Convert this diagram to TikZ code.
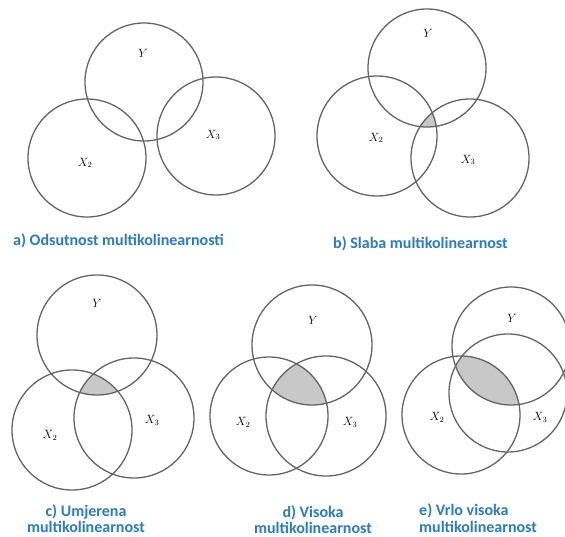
\documentclass[tikz,border=0pt]{standalone}
\usepackage{fontspec}
\newfontfamily\capfont{Carlito}
\definecolor{capblue}{RGB}{44,122,196}
\definecolor{circgray}{RGB}{100,100,100}
\definecolor{shadegray}{RGB}{200,200,200}
\begin{document}
\begin{tikzpicture}[x=1pt,y=-1pt,
  venn/.style={draw=circgray,line width=1.3pt},
  shade3/.style={fill=shadegray},
  lbl/.style={inner sep=0pt,font=\fontsize{12}{14}\selectfont},
  captxt/.style={inner sep=0pt,text=capblue,font=\capfont\bfseries\fontsize{16}{16.5}\selectfont}]
\useasboundingbox (0,0) rectangle (565,537);
% ---------- a) ----------
\draw[venn] (144,82) circle (59);
\draw[venn] (87,158) circle (59);
\draw[venn] (216,136) circle (59);
\node[lbl] (aY) at (143,53) {$Y$};
\node[lbl] (aX2) at (85,163) {$X_2$};
\node[lbl] (aX3) at (213,135) {$X_3$};
\node[captxt,anchor=west] (acap) at (13,241) {a) Odsutnost multikolinearnosti};
% ---------- b) ----------
\begin{scope}
  \clip (427,68) circle (59);
  \clip (377,136) circle (60);
  \fill[shade3] (470,158) circle (59);
\end{scope}
\draw[venn] (427,68) circle (59);
\draw[venn] (377,136) circle (60);
\draw[venn] (470,158) circle (59);
\node[lbl] (bY) at (428,33) {$Y$};
\node[lbl] (bX2) at (376,138) {$X_2$};
\node[lbl] (bX3) at (468,160) {$X_3$};
\node[captxt,anchor=west] (bcap) at (333,244) {b) Slaba multikolinearnost};
% ---------- c) ----------
\begin{scope}
  \clip (97,335) circle (60);
  \clip (72,430) circle (60);
  \fill[shade3] (134,418) circle (60);
\end{scope}
\draw[venn] (97,335) circle (60);
\draw[venn] (72,430) circle (60);
\draw[venn] (134,418) circle (60);
\node[lbl] (cY) at (97,303) {$Y$};
\node[lbl] (cX2) at (50,435) {$X_2$};
\node[lbl] (cX3) at (152,420) {$X_3$};
\node[captxt,align=center] (ccap) at (86,518.5) {c) Umjerena\\multikolinearnost};
% ---------- d) ----------
\begin{scope}
  \clip (312,345) circle (60);
  \clip (269,416) circle (59);
  \fill[shade3] (326,416) circle (60);
\end{scope}
\draw[venn] (312,345) circle (60);
\draw[venn] (269,416) circle (59);
\draw[venn] (326,416) circle (60);
\node[lbl] (dY) at (313,320) {$Y$};
\node[lbl] (dX2) at (243,422) {$X_2$};
\node[lbl] (dX3) at (350,422) {$X_3$};
\node[captxt,align=center] (dcap) at (313,519.5) {d) Visoka\\multikolinearnost};
% ---------- e) ----------
\begin{scope}
  \clip (511,346) circle (59);
  \clip (508,393) circle (59);
  \fill[shade3] (461,415) circle (59);
\end{scope}
\draw[venn] (511,346) circle (59);
\draw[venn] (508,393) circle (59);
\draw[venn] (461,415) circle (59);
\node[lbl] (eY) at (512,318) {$Y$};
\node[lbl] (eX2) at (437,417) {$X_2$};
\node[lbl] (eX3) at (540,417) {$X_3$};
\node[captxt,align=left,anchor=west] (ecap) at (419,518) {e) Vrlo visoka\\multikolinearnost};
\end{tikzpicture}
\end{document}
